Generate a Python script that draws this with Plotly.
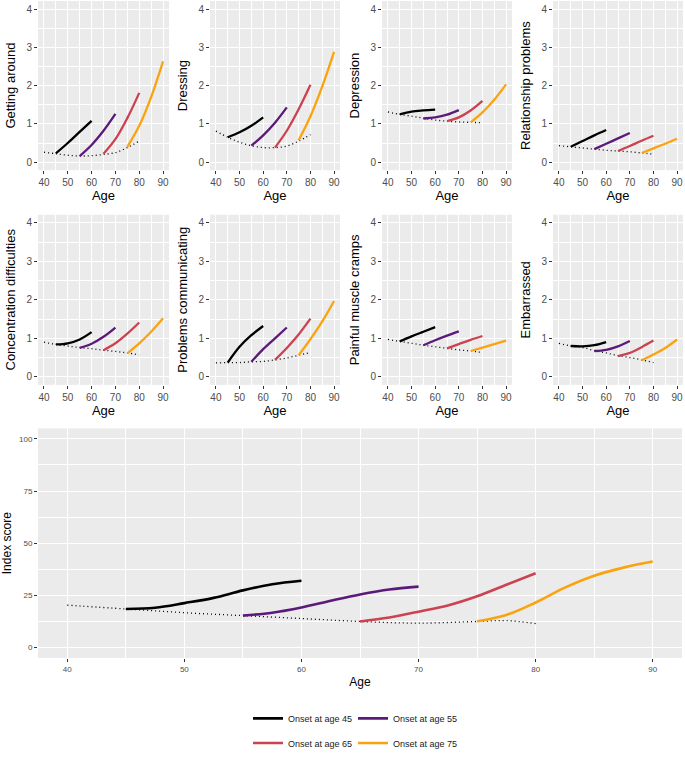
import plotly.graph_objects as go

ages_45 = [45, 50, 55, 60]
ages_55 = [55, 60, 65, 70]
ages_65 = [65, 70, 75, 80]
ages_75 = [75, 80, 85, 90]
ages_base = [40, 45, 50, 55, 60, 65, 70, 75, 80]

onset_labels = ["Onset at age 45", "Onset at age 55", "Onset at age 65", "Onset at age 75"]
onset_colors = ["#000000", "#5B1A79", "#CC4250", "#FBA30F"]

symptoms = ["Getting around", "Dressing", "Depression", "Relationship problems",
            "Concentration difficulties", "Problems communicating", "Painful muscle cramps", "Embarrassed"]

getting_around = [[0.23, 0.50, 0.79, 1.08], [0.16, 0.45, 0.82, 1.26],
                  [0.22, 0.60, 1.15, 1.81], [0.40, 0.95, 1.70, 2.63]]
getting_around_base = [0.26, 0.22, 0.18, 0.16, 0.17, 0.20, 0.25, 0.38, 0.55]

dressing = [[0.65, 0.78, 0.95, 1.17], [0.43, 0.70, 1.03, 1.43],
            [0.38, 0.82, 1.38, 2.02], [0.57, 1.20, 1.98, 2.88]]
dressing_base = [0.81, 0.65, 0.52, 0.43, 0.38, 0.38, 0.42, 0.55, 0.72]

depression = [[1.25, 1.32, 1.35, 1.37], [1.14, 1.17, 1.24, 1.36],
              [1.07, 1.17, 1.35, 1.60], [1.04, 1.30, 1.63, 2.03]]
depression_base = [1.31, 1.25, 1.20, 1.15, 1.10, 1.07, 1.05, 1.04, 1.03]

relationship = [[0.40, 0.55, 0.70, 0.84], [0.34, 0.48, 0.62, 0.76],
                [0.29, 0.42, 0.56, 0.69], [0.24, 0.36, 0.48, 0.61]]
relationship_base = [0.43, 0.40, 0.37, 0.34, 0.31, 0.29, 0.27, 0.24, 0.21]

concentration = [[0.84, 0.87, 0.97, 1.16], [0.75, 0.86, 1.04, 1.28],
                 [0.69, 0.87, 1.12, 1.41], [0.61, 0.87, 1.17, 1.52]]
concentration_base = [0.90, 0.84, 0.80, 0.76, 0.73, 0.69, 0.66, 0.62, 0.57]

communicating = [[0.37, 0.78, 1.08, 1.32], [0.39, 0.72, 1.00, 1.28],
                 [0.44, 0.75, 1.10, 1.51], [0.56, 0.98, 1.44, 1.97]]
communicating_base = [0.36, 0.37, 0.37, 0.39, 0.40, 0.44, 0.49, 0.56, 0.63]

cramps = [[0.92, 1.05, 1.17, 1.29], [0.82, 0.95, 1.07, 1.18],
          [0.74, 0.85, 0.96, 1.06], [0.67, 0.76, 0.85, 0.94]]
cramps_base = [0.97, 0.92, 0.87, 0.82, 0.78, 0.74, 0.70, 0.67, 0.63]

embarrassed = [[0.80, 0.79, 0.82, 0.90], [0.67, 0.70, 0.79, 0.93],
               [0.54, 0.62, 0.77, 0.94], [0.43, 0.58, 0.75, 0.97]]
embarrassed_base = [0.87, 0.80, 0.76, 0.68, 0.62, 0.55, 0.50, 0.44, 0.37]

# index score panel
index_ages_45 = [45, 47.5, 50, 52.5, 55, 57.5, 60]
index_ages_55 = [55, 57.5, 60, 62.5, 65, 67.5, 70]
index_ages_65 = [65, 67.5, 70, 72.5, 75, 77.5, 80]
index_ages_75 = [75, 77.5, 80, 82.5, 85, 87.5, 90]
index_ages_base = [40, 45, 50, 55, 60, 65, 70, 75, 77.5, 80]
index_45 = [18.5, 19.1, 21.3, 23.8, 27.4, 30.3, 32.0]
index_55 = [15.3, 16.7, 19.2, 22.4, 25.4, 27.8, 29.2]
index_65 = [12.5, 14.4, 17.2, 20.2, 24.6, 30.1, 35.6]
index_75 = [12.6, 15.6, 21.6, 28.7, 34.4, 38.3, 41.2]
index_base = [20.3, 18.5, 16.7, 15.3, 13.9, 12.5, 11.7, 12.5, 12.9, 11.5]

panel_values = [getting_around, dressing, depression, relationship,
                concentration, communicating, cramps, embarrassed]
panel_bases = [getting_around_base, dressing_base, depression_base, relationship_base,
               concentration_base, communicating_base, cramps_base, embarrassed_base]
onset_ages = [ages_45, ages_55, ages_65, ages_75]

W, H = 685, 758
FONT = "Liberation Sans, Arial, sans-serif"
DOTTED = "1px,3px"


def px_x(a, b):
    return [a / W, b / W]


def px_y(top, bottom):
    return [1 - bottom / H, 1 - top / H]


col_px = [(38, 169), (210, 340), (382, 512), (553, 683)]
row_px = [(1, 172), (217, 389)]

fig = go.Figure()
layout = {}

for i, name in enumerate(symptoms):
    n = i + 1
    xa, ya = ("x%d" % n if n > 1 else "x"), ("y%d" % n if n > 1 else "y")
    fig.add_trace(go.Scatter(x=ages_base, y=panel_bases[i], mode="lines", xaxis=xa, yaxis=ya,
                             line=dict(color="black", width=1.3, dash=DOTTED, shape="spline"),
                             showlegend=False, hoverinfo="skip"))
    for k in range(4):
        fig.add_trace(go.Scatter(x=onset_ages[k], y=panel_values[i][k], mode="lines", xaxis=xa, yaxis=ya,
                                 line=dict(color=onset_colors[k], width=2.3, shape="spline"),
                                 showlegend=False, name=onset_labels[k]))
    r, c = divmod(i, 4)
    axis_common = dict(ticks="outside", ticklen=3, tickcolor="#333333", tickwidth=1,
                       tickfont=dict(size=10, color="#4D4D4D", family=FONT),
                       showgrid=True, gridcolor="white", gridwidth=1, zeroline=False, showline=False)
    layout["xaxis%d" % n] = dict(axis_common, domain=px_x(*col_px[c]), anchor=ya, range=[37.5, 92.5],
                                 tickmode="array", tickvals=[40, 50, 60, 70, 80, 90],
                                 minor=dict(tickmode="array", tickvals=[45, 55, 65, 75, 85], showgrid=True,
                                            gridcolor="white", gridwidth=0.5, ticks=""),
                                 title=dict(text="Age", font=dict(size=13, color="black", family=FONT), standoff=3))
    layout["yaxis%d" % n] = dict(axis_common, domain=px_y(*row_px[r]), anchor=xa, range=[-0.21, 4.21],
                                 tickmode="array", tickvals=[0, 1, 2, 3, 4],
                                 minor=dict(tickmode="array", tickvals=[0.5, 1.5, 2.5, 3.5], showgrid=True,
                                            gridcolor="white", gridwidth=0.5, ticks=""),
                                 title=dict(text=name, font=dict(size=13, color="black", family=FONT), standoff=7))

# bottom panel
fig.add_trace(go.Scatter(x=index_ages_base, y=index_base, mode="lines", xaxis="x9", yaxis="y9",
                         line=dict(color="black", width=1.3, dash=DOTTED, shape="spline"),
                         showlegend=False, hoverinfo="skip"))
index_ages = [index_ages_45, index_ages_55, index_ages_65, index_ages_75]
index_vals = [index_45, index_55, index_65, index_75]
for k in range(4):
    fig.add_trace(go.Scatter(x=index_ages[k], y=index_vals[k], mode="lines", xaxis="x9", yaxis="y9",
                             line=dict(color=onset_colors[k], width=2.6, shape="spline"),
                             name=onset_labels[k], legend="legend" if k < 2 else "legend2"))

axis9 = dict(ticks="outside", ticklen=3, tickcolor="#333333", tickwidth=1,
             tickfont=dict(size=8, color="#4D4D4D", family=FONT),
             showgrid=True, gridcolor="white", gridwidth=1, zeroline=False, showline=False)
layout["xaxis9"] = dict(axis9, domain=px_x(38, 682), anchor="y9", range=[37.5, 92.5],
                        tickmode="array", tickvals=[40, 50, 60, 70, 80, 90],
                        minor=dict(tickmode="array", tickvals=[45, 55, 65, 75, 85], showgrid=True,
                                   gridcolor="white", gridwidth=0.5, ticks=""),
                        title=dict(text="Age", font=dict(size=12, color="black", family=FONT), standoff=5))
layout["yaxis9"] = dict(axis9, domain=px_y(433, 665), anchor="x9", range=[-5, 105],
                        tickmode="array", tickvals=[0, 25, 50, 75, 100],
                        minor=dict(tickmode="array", tickvals=[12.5, 37.5, 62.5, 87.5], showgrid=True,
                                   gridcolor="white", gridwidth=0.5, ticks=""),
                        title=dict(text="Index score", font=dict(size=12, color="black", family=FONT), standoff=6))

legend_common = dict(orientation="h", xanchor="left", x=248 / W, yanchor="middle",
                     font=dict(size=9, color="#1A1A1A", family=FONT), bgcolor="rgba(0,0,0,0)",
                     entrywidth=60, itemwidth=30, tracegroupgap=0)
layout["legend"] = dict(legend_common, y=1 - 726 / H)
layout["legend2"] = dict(legend_common, y=1 - 751 / H)

fig.update_layout(**layout)
fig.update_layout(width=W, height=H, margin=dict(l=0, r=0, t=0, b=0),
                  paper_bgcolor="white", plot_bgcolor="#EBEBEB",
                  font=dict(family=FONT), showlegend=True)

fig.write_html("out.html", config={"displayModeBar": False},
               post_script="document.body.style.margin='0px';")
